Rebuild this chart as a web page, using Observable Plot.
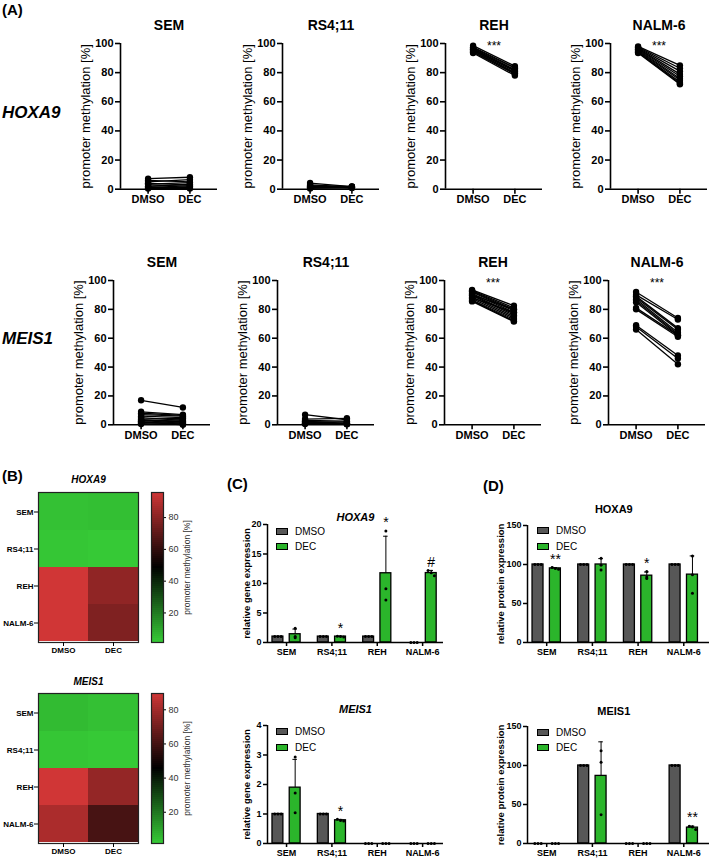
<!DOCTYPE html>
<html>
<head>
<meta charset="utf-8">
<script src="https://cdn.jsdelivr.net/npm/d3@7"></script>
<script src="https://cdn.jsdelivr.net/npm/@observablehq/plot@0.6"></script>
<style>
  body { margin: 0; background: #fff; }
  #fig { position: relative; width: 709px; height: 860px; overflow: hidden; background: #fff;
         font-family: "Liberation Sans", Arial, Helvetica, sans-serif; color: #000; }
</style>
</head>
<body>
<div id="fig"></div>
<script>
const FONT = '"Liberation Sans", Arial, Helvetica, sans-serif';

// ---- categories ----
const conditions = ["DMSO", "DEC"];
const cellLines = ["SEM", "RS4;11", "REH", "NALM-6"];
const treatColors = ["#575757", "#2bb52b"];
const heatGreen = "#36c936";
const heatRed = "#d03636";

// ---- (A) promoter methylation [%] per CpG site: [DMSO, DEC] ----
const HOXA9_SEM = [[7.2, 8.2], [6.0, 5.0], [5.0, 6.5], [4.0, 3.0], [3.5, 4.5], [3.0, 2.0], [2.0, 3.5], [1.5, 1.0], [1.0, 2.5], [0.5, 0.5]];
const HOXA9_RS411 = [[4.2, 1.8], [3.0, 1.5], [2.5, 1.0], [2.0, 1.9], [1.5, 1.4], [1.0, 0.8], [0.5, 1.2], [1.2, 1.6]];
const HOXA9_REH = [[98.5, 84.5], [97.5, 83.5], [97, 83], [96.5, 82], [96, 81.5], [95.5, 81], [95, 80], [94.5, 79.5], [94, 79], [93.5, 78]];
const HOXA9_NALM6 = [[98, 85], [97.5, 83], [97, 81], [96.5, 79], [96, 77.5], [95.5, 76], [95, 75], [94.5, 73.5], [94, 72.5], [93.5, 72]];
const MEIS1_SEM = [[17, 12], [9, 7], [8, 6.5], [7, 6], [6, 5], [5, 3], [4, 4.5], [3.5, 2], [3, 1], [2.5, 3.5], [2, 0.5], [1.5, 2.5], [1, 1.5], [0.5, 0.5], [2, 0]];
const MEIS1_RS411 = [[7, 3.5], [4, 4.5], [3, 2.5], [2.5, 1], [2, 2], [1.5, 0.5], [1, 1], [0.5, 0.3], [2, 0.5], [1, 1.2]];
const MEIS1_REH = [[93.5, 82.5], [93, 81], [92.5, 80], [92, 79], [91, 78], [90, 77], [89.5, 76], [88.5, 75], [87.5, 74], [86.5, 73], [86, 72], [85.5, 71.5], [88, 78], [90, 80]];
const MEIS1_NALM6 = [[92, 74], [90, 73], [89, 67], [88, 66], [87, 64], [86, 63], [85, 62], [81, 62], [80, 61], [69, 48], [68, 46], [66, 42]];
const methylSig = ["", "", "***", "***"];

// ---- (C) relative gene expression, replicates per cell line ----
const geneHOXA9_DMSO = [[1, 1, 1], [1, 1, 1], [1, 1, 1], [0, 0, 0]];
const geneHOXA9_DEC = [[2.4, 1.0, 0.8], [1.05, 1.0, 0.95], [18.9, 9.1, 7.2], [12.2, 11.8, 11.3]];
const geneHOXA9_sig = ["", "*", "*", "#"];
const geneMEIS1_DMSO = [[1, 1, 1], [1, 1, 1], [0, 0, 0], [0, 0, 0]];
const geneMEIS1_DEC = [[2.93, 1.71, 1.04], [0.82, 0.78, 0.76], [0, 0, 0], [0, 0, 0]];
const geneMEIS1_sig = ["", "*", "", ""];

// ---- (D) relative protein expression, replicates per cell line ----
const protHOXA9_DMSO = [[100, 100, 100], [100, 100, 100], [100, 100, 100], [100, 100, 100]];
const protHOXA9_DEC = [[96, 95, 94], [108, 99, 93], [91, 84, 82], [111, 87, 63]];
const protHOXA9_sig = ["**", "", "*", ""];
const protMEIS1_DMSO = [[0, 0, 0], [100, 100, 100], [0, 0, 0], [100, 100, 100]];
const protMEIS1_DEC = [[0, 0, 0], [119, 104, 37], [0, 0, 0], [22, 21, 18]];
const protMEIS1_sig = ["", "", "", "**"];

// ---- helpers ----
const fig = document.getElementById("fig");
function place(node, left, top) {
  node.style.position = "absolute";
  node.style.left = left + "px";
  node.style.top = top + "px";
  fig.appendChild(node);
}
function label(text, left, cy, css = {}) {
  const d = document.createElement("div");
  d.textContent = text;
  Object.assign(d.style, {position: "absolute", left: left + "px", top: cy + "px",
    transform: "translateY(-50%)", lineHeight: "1", whiteSpace: "nowrap"}, css);
  fig.appendChild(d);
}
function baseStyle(fs) {
  return {fontFamily: FONT, fontSize: fs + "px", fontWeight: "bold", color: "#000",
          background: "transparent", overflow: "visible"};
}

// paired before/after plot of methylation per CpG site
function pairPlot(pairs, title, sig, axisX, yTop, yBottom) {
  const mL = 52, mR = 6, mT = 32, mB = 24, fw = 97, pad = 0.66;
  const fh = yBottom - yTop;
  const links = pairs.map(([a, b]) => ({a, b}));
  const pts = pairs.flatMap(([a, b]) => [{c: 0, v: a}, {c: 1, v: b}]);
  const svg = Plot.plot({
    width: mL + fw + mR, height: mT + fh + mB,
    marginLeft: mL, marginRight: mR, marginTop: mT, marginBottom: mB,
    x: {domain: [-pad, 1 + pad]},
    y: {domain: [0, 100]},
    style: baseStyle(11),
    marks: [
      Plot.ruleX([-pad], {y1: 0, y2: 100, strokeWidth: 1.6}),
      Plot.ruleY([0], {x1: -pad, x2: 1 + pad, strokeWidth: 1.6}),
      Plot.axisY({ticks: [0, 20, 40, 60, 80, 100], tickSize: 5, tickPadding: 2, strokeWidth: 1.6, label: null}),
      Plot.axisX({ticks: [0, 1], tickFormat: i => conditions[i], tickSize: 5, tickPadding: 1, strokeWidth: 1.6, label: null}),
      Plot.link(links, {x1: () => 0, x2: () => 1, y1: "a", y2: "b", stroke: "#000", strokeWidth: 1.3}),
      Plot.dot(pts, {x: "c", y: "v", r: 3.2, fill: "#000"}),
      Plot.text([title], {text: d => d, frameAnchor: "top", dy: -23, fontSize: 14}),
      Plot.text(["promoter methylation [%]"], {text: d => d, frameAnchor: "left", textAnchor: "middle",
        dx: -35, rotate: -90, fontSize: 13, fontWeight: "normal"}),
      sig ? Plot.text([sig], {text: d => d, x: 0.5, y: 100, dy: 3, fontSize: 12, fontWeight: "normal"}) : null
    ]
  });
  place(svg, axisX - mL, yTop - mT);
}

// grouped bar chart with mean, upper SD and replicate dots
function barPlot(o) {
  const mL = 44, mR = 4, mT = 30, mB = 22, xLeft = -0.42, off = 0.19, hw = 0.12;
  const fw = (o.xRight - xLeft) * o.step;
  const fh = o.yBottom - o.yTop;
  const rows = cellLines.flatMap((cl, i) => [o.dmso[i], o.dec[i]].map((vals, t) => {
    const mean = d3.mean(vals), sd = d3.deviation(vals) || 0;
    return {i, cl, t: conditions[t], x: i + (t ? off : -off), mean, sd, top: mean + sd,
            peak: Math.max(mean + sd, d3.max(vals)), vals, sig: t ? o.sig[i] : ""};
  }));
  const pts = rows.flatMap(r => {
    const spread = r.sd < 0.025 * o.yMax;
    return r.vals.map((v, j) => ({x: r.x + (spread ? (j - 1) * 0.07 : 0), v}));
  });
  const errs = rows.filter(r => r.sd > 0);
  const svg = Plot.plot({
    width: mL + fw + mR, height: mT + fh + mB,
    marginLeft: mL, marginRight: mR, marginTop: mT, marginBottom: mB,
    x: {domain: [xLeft, o.xRight]},
    y: {domain: [0, o.yMax]},
    color: {domain: conditions, range: treatColors},
    style: baseStyle(9),
    marks: [
      Plot.rectY(rows.filter(r => r.mean > 0), {x1: r => r.x - hw, x2: r => r.x + hw, y: "mean",
        fill: "t", stroke: "#000", strokeWidth: 1.3}),
      Plot.ruleX(errs, {x: "x", y1: "mean", y2: "top", strokeWidth: 1}),
      Plot.ruleY(errs, {y: "top", x1: r => r.x - 0.05, x2: r => r.x + 0.05, strokeWidth: 1}),
      Plot.dot(pts, {x: "x", y: "v", r: 1.5, fill: "#000"}),
      Plot.ruleX([xLeft], {y1: 0, y2: o.yMax, strokeWidth: 1.5}),
      Plot.ruleY([0], {x1: xLeft, x2: o.xRight, strokeWidth: 1.5}),
      Plot.axisY({ticks: o.yTicks, tickFormat: d => String(d), tickSize: 4, tickPadding: 2, strokeWidth: 1.5, label: null}),
      Plot.axisX({ticks: [0, 1, 2, 3], tickFormat: i => cellLines[i], tickSize: 4, tickPadding: 2,
        strokeWidth: 1.5, label: null}),
      Plot.text(rows.filter(r => r.sig), {x: "x", y: "peak", text: "sig", dy: -8, fontSize: 14, fontWeight: "normal"}),
      Plot.text([o.title], {text: d => d, frameAnchor: "top", dy: o.titleY - o.yTop, dx: o.titleDx || 0,
        fontSize: 11, fontStyle: o.italic ? "italic" : "normal"}),
      Plot.text([o.yLabel], {text: d => d, frameAnchor: "left", textAnchor: "middle", dx: o.labelDx,
        rotate: -90, fontSize: 9.5})
    ]
  });
  place(svg, o.axisX - mL, o.yTop - mT);
  // legend swatches
  conditions.forEach((name, k) => {
    const yc = o.legendY[k];
    const b = document.createElement("div");
    Object.assign(b.style, {position: "absolute", left: o.legendX + "px", top: (yc - 4) + "px",
      width: "10px", height: "5px", background: treatColors[k], border: "1.3px solid #000"});
    fig.appendChild(b);
    label(name, o.legendX + 19, yc, {fontSize: "10px"});
  });
}

// heatmap of mean methylation with a vertical colour bar
function heatPlot(sets, title, frameTop, titleY) {
  const cells = sets.flatMap((pairs, i) => conditions.map((t, k) => ({
    cl: cellLines[i], t, v: d3.mean(pairs, p => p[k])
  })));
  const lo = d3.min(cells, c => c.v), hi = d3.max(cells, c => c.v);
  const color = {type: "linear", domain: [lo, (lo + hi) / 2, hi], range: [heatGreen, "#000", heatRed], interpolate: "rgb"};
  const mL = 38, mT = 28, mB = 22, fw = 100, fh = 150;
  const svg = Plot.plot({
    width: mL + fw + 2, height: mT + fh + mB,
    marginLeft: mL, marginRight: 2, marginTop: mT, marginBottom: mB,
    x: {domain: conditions, padding: 0},
    y: {domain: cellLines, padding: 0},
    color,
    style: baseStyle(8),
    marks: [
      Plot.cell(cells, {x: "t", y: "cl", fill: "v", inset: 0, shapeRendering: "crispEdges"}),
      Plot.frame({stroke: "#222", strokeWidth: 1.2}),
      Plot.axisY({tickSize: 4, tickPadding: 1, label: null}),
      Plot.axisX({tickSize: 4, tickPadding: 1, label: null}),
      Plot.text([title], {text: d => d, frameAnchor: "top", dy: titleY - frameTop, fontSize: 10, fontStyle: "italic"})
    ]
  });
  place(svg, 0, frameTop - mT);

  const N = 75;
  const slices = d3.range(N).map(k => ({y1: lo + (hi - lo) * k / N, y2: lo + (hi - lo) * (k + 1) / N}));
  const bar = Plot.plot({
    width: 1 + 12 + 44, height: mT + fh + mB,
    marginLeft: 1, marginRight: 44, marginTop: mT, marginBottom: mB,
    x: {domain: [0, 1], axis: null},
    y: {domain: [lo, hi]},
    color,
    style: {...baseStyle(9), fontWeight: "normal"},
    marks: [
      Plot.rect(slices, {x1: 0, x2: 1, y1: "y1", y2: "y2", fill: d => (d.y1 + d.y2) / 2, shapeRendering: "crispEdges"}),
      Plot.frame({stroke: "#222", strokeWidth: 1.2}),
      Plot.axisY({anchor: "right", ticks: [20, 40, 60, 80], tickSize: 2, tickPadding: 3, fill: "#333", label: null}),
      Plot.text(["promoter methylation [%]"], {text: d => d, frameAnchor: "right", textAnchor: "middle",
        dx: 24, rotate: -90, fontSize: 8.5, fill: "#333"})
    ]
  });
  place(bar, 150, frameTop - mT);
}

// ---- panel letters and row labels ----
label("(A)", 2, 9, {fontSize: "15px", fontWeight: "bold"});
label("(B)", 2, 475, {fontSize: "15px", fontWeight: "bold"});
label("(C)", 227, 483, {fontSize: "15px", fontWeight: "bold"});
label("(D)", 483, 485, {fontSize: "15px", fontWeight: "bold"});
label("HOXA9", 2, 112, {fontSize: "17px", fontWeight: "bold", fontStyle: "italic"});
label("MEIS1", 2, 338, {fontSize: "17px", fontWeight: "bold", fontStyle: "italic"});

// ---- (A) ----
const rowHOXA9 = [HOXA9_SEM, HOXA9_RS411, HOXA9_REH, HOXA9_NALM6];
const rowMEIS1 = [MEIS1_SEM, MEIS1_RS411, MEIS1_REH, MEIS1_NALM6];
[120, 282, 445, 610].forEach((ax, i) => pairPlot(rowHOXA9[i], cellLines[i], methylSig[i], ax, 43.3, 189));
[113, 277, 444, 608].forEach((ax, i) => pairPlot(rowMEIS1[i], cellLines[i], methylSig[i], ax, 280, 424.3));

// ---- (B) ----
heatPlot(rowHOXA9, "HOXA9", 492, 475);
heatPlot(rowMEIS1, "MEIS1", 693, 677);

// ---- (C) ----
barPlot({dmso: geneHOXA9_DMSO, dec: geneHOXA9_DEC, sig: geneHOXA9_sig, title: "HOXA9", italic: true,
  yMax: 20, yTicks: [0, 5, 10, 15, 20], yLabel: "relative gene expression", labelDx: -21,
  axisX: 267, yTop: 524, yBottom: 642, xRight: 3.46, step: 45.36, titleY: 513,
  legendX: 276, legendY: [532, 547]});
barPlot({dmso: geneMEIS1_DMSO, dec: geneMEIS1_DEC, sig: geneMEIS1_sig, title: "MEIS1", italic: true,
  yMax: 4, yTicks: [0, 1, 2, 3, 4], yLabel: "relative gene expression", labelDx: -21,
  axisX: 267, yTop: 725, yBottom: 843, xRight: 3.46, step: 45.36, titleY: 705,
  legendX: 276, legendY: [732, 748]});

// ---- (D) ----
barPlot({dmso: protHOXA9_DMSO, dec: protHOXA9_DEC, sig: protHOXA9_sig, title: "HOXA9", italic: false,
  yMax: 150, yTicks: [0, 50, 100, 150], yLabel: "relative protein expression", labelDx: -27,
  axisX: 527, yTop: 525, yBottom: 642, xRight: 3.62, step: 45.7, titleY: 505, titleDx: -6,
  legendX: 537, legendY: [531, 547]});
barPlot({dmso: protMEIS1_DMSO, dec: protMEIS1_DEC, sig: protMEIS1_sig, title: "MEIS1", italic: false,
  yMax: 150, yTicks: [0, 50, 100, 150], yLabel: "relative protein expression", labelDx: -27,
  axisX: 527, yTop: 726, yBottom: 843, xRight: 3.62, step: 45.7, titleY: 707, titleDx: -6,
  legendX: 537, legendY: [733, 748]});
</script>
</body>
</html>
